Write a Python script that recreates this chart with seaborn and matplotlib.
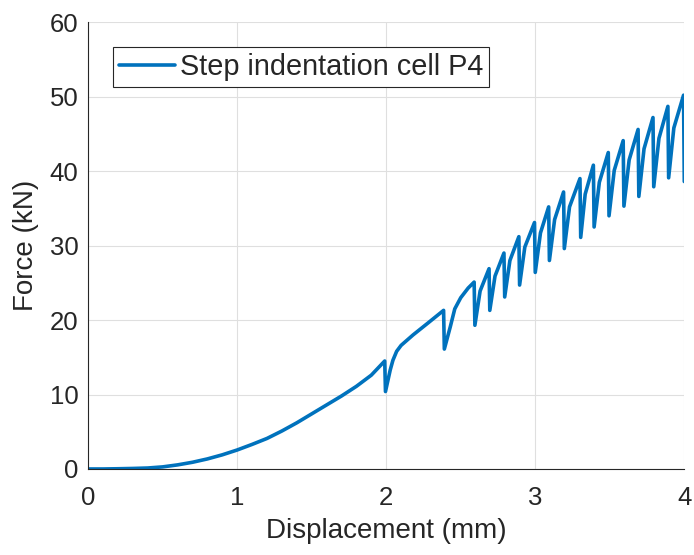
import numpy as np
import pandas as pd
import matplotlib
matplotlib.use("Agg")
import matplotlib.pyplot as plt
import seaborn as sns

# Displacement (mm) / force (kN)
displacement = [
    0.0, 0.1, 0.2, 0.3, 0.4, 0.5, 0.6, 0.7, 0.8, 0.9, 1.0,
    1.1, 1.2, 1.3, 1.4, 1.5, 1.6, 1.7, 1.8, 1.9, 1.99,
    1.995, 2.027, 2.045, 2.07, 2.1, 2.14, 2.18, 2.28, 2.385,
    2.39, 2.43, 2.46, 2.5, 2.55, 2.59,
    2.595, 2.63, 2.69,
    2.695, 2.73, 2.79,
    2.795, 2.83, 2.89,
    2.895, 2.93, 2.995,
    3.0, 3.035, 3.09,
    3.095, 3.13, 3.19,
    3.195, 3.23, 3.30,
    3.305, 3.335, 3.39,
    3.395, 3.43, 3.49,
    3.495, 3.53, 3.59,
    3.595, 3.63, 3.69,
    3.695, 3.73, 3.79,
    3.795, 3.83, 3.89,
    3.895, 3.93, 3.995,
    4.0,
]
force = [
    0.0, 0.0, 0.03, 0.07, 0.13, 0.28, 0.55, 0.9, 1.35, 1.9, 2.55,
    3.3, 4.1, 5.1, 6.2, 7.4, 8.6, 9.8, 11.1, 12.6, 14.5,
    10.4, 13.3, 14.6, 15.8, 16.6, 17.3, 18.0, 19.6, 21.3,
    16.1, 19.1, 21.5, 23.0, 24.3, 25.1,
    19.3, 23.9, 26.9,
    21.3, 25.9, 29.0,
    23.1, 28.0, 31.2,
    24.7, 29.8, 33.1,
    26.4, 31.7, 35.2,
    28.0, 33.5, 37.2,
    29.6, 35.2, 39.0,
    31.1, 36.9, 40.8,
    32.5, 38.5, 42.5,
    34.0, 40.1, 44.1,
    35.3, 41.5, 45.6,
    36.6, 43.0, 47.2,
    37.9, 44.4, 48.7,
    39.1, 45.8, 50.2,
    38.6,
]
series_name = "Step indentation cell P4"
x_ticks = [0, 1, 2, 3, 4]
y_ticks = [0, 10, 20, 30, 40, 50, 60]

df = pd.DataFrame({"Displacement (mm)": displacement,
                   "Force (kN)": force,
                   "series": series_name})

sns.set_theme(style="white")
plt.rcParams['font.family'] = ['Liberation Sans', 'DejaVu Sans']

fig = plt.figure(figsize=(6.94, 5.55), dpi=100)
ax = fig.add_axes([0.127, 0.155, 0.859, 0.805])

sns.lineplot(data=df, x="Displacement (mm)", y="Force (kN)", hue="series",
             palette=["#0072BD"], sort=False, estimator=None,
             linewidth=2.6, ax=ax)

ax.set_xlim(0, 4)
ax.set_ylim(0, 60)
ax.set_xticks(x_ticks)
ax.set_yticks(y_ticks)
ax.grid(True, color="#DFDFDF", linewidth=0.8)
ax.set_axisbelow(True)

for side in ["top", "right"]:
    ax.spines[side].set_visible(False)
for side in ["left", "bottom"]:
    ax.spines[side].set_color("#262626")
    ax.spines[side].set_linewidth(0.8)

ax.tick_params(axis="both", direction="in", length=5, width=0.8,
               color="#262626", labelsize=18.5, labelcolor="#262626")
ax.tick_params(axis="x", pad=12)
ax.tick_params(axis="y", pad=7)
ax.set_xlabel("Displacement (mm)", fontsize=20, color="#262626", labelpad=6)
ax.set_ylabel("Force (kN)", fontsize=20, color="#262626", labelpad=8)

leg = ax.legend(loc="upper left", bbox_to_anchor=(0.042, 0.944), fontsize=20.8,
                frameon=True, fancybox=False, framealpha=1,
                edgecolor="#262626", handlelength=1.95, handletextpad=0.15,
                borderpad=0.2, borderaxespad=0)
leg.get_frame().set_linewidth(0.8)

plt.savefig("out.png", dpi=100)
plt.close()
